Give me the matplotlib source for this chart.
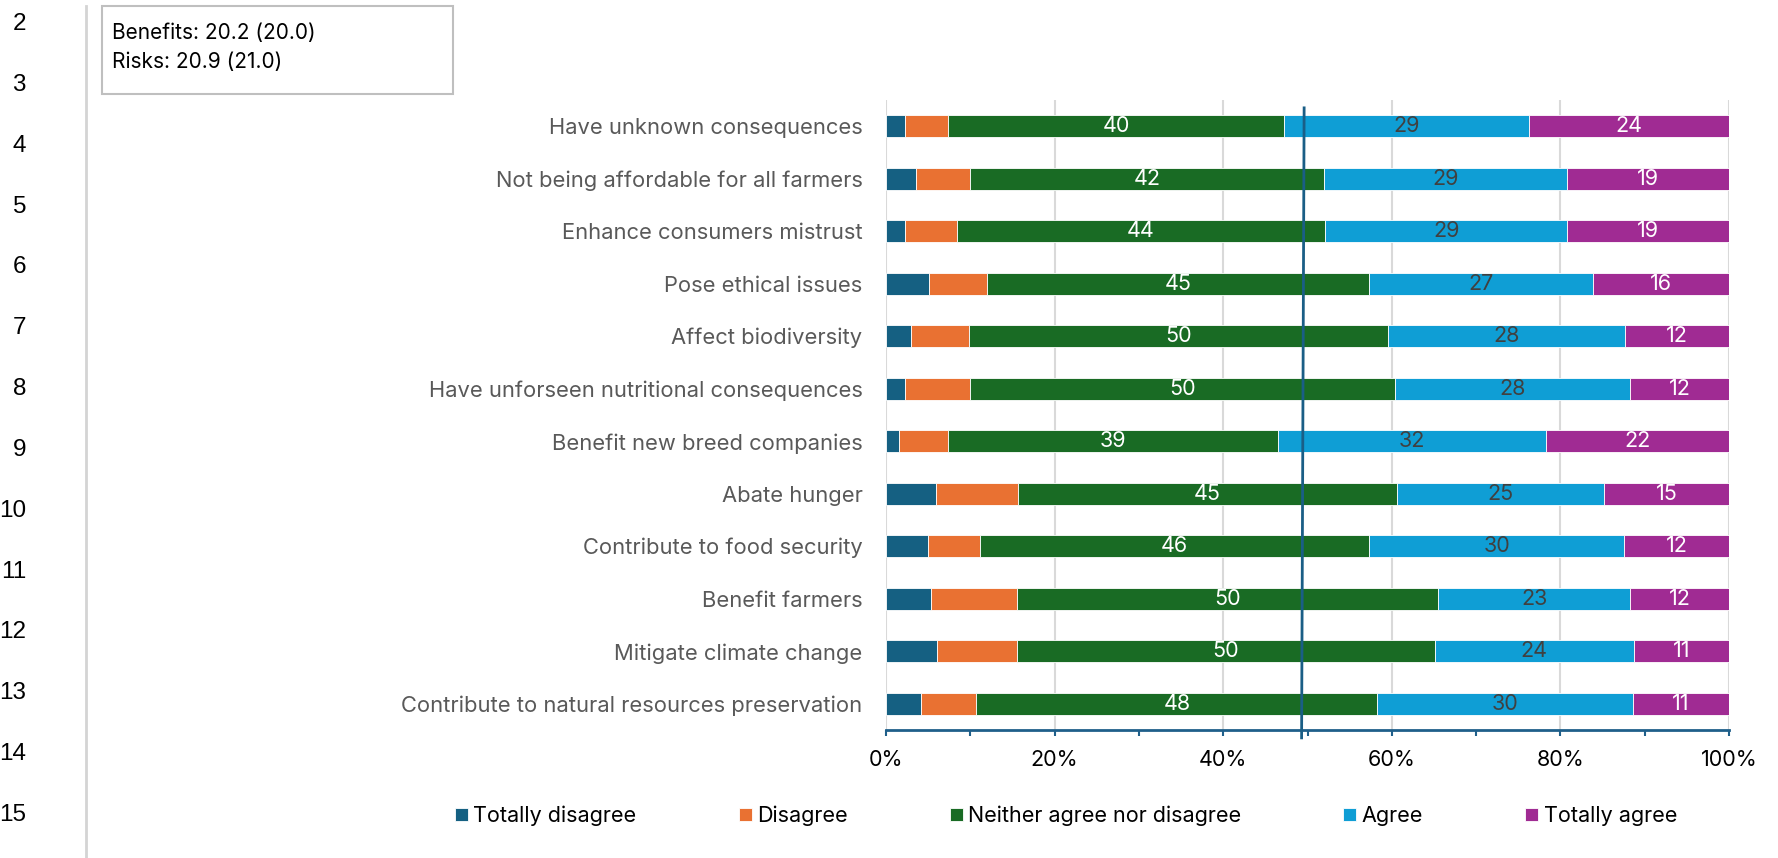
import matplotlib
matplotlib.use("Agg")
import matplotlib.pyplot as plt
from matplotlib.patches import Rectangle
import numpy as np

plt.rcParams['font.family'] = ['Inter', 'DejaVu Sans']

# statements, top to bottom
labels = ['Have unknown consequences', 'Not being affordable for all farmers',
          'Enhance consumers mistrust', 'Pose ethical issues', 'Affect biodiversity',
          'Have unforseen nutritional consequences', 'Benefit new breed companies',
          'Abate hunger', 'Contribute to food security', 'Benefit farmers',
          'Mitigate climate change', 'Contribute to natural resources preservation']

# shares in %
totally_disagree = [2.2, 3.6, 2.2, 5.1, 3.0, 2.2, 1.6, 5.9, 5.0, 5.3, 6.1, 4.2]
disagree = [5.2, 6.4, 6.2, 6.9, 6.8, 7.8, 5.7, 9.8, 6.1, 10.2, 9.4, 6.5]
neither = [39.8, 41.9, 43.7, 45.3, 49.8, 50.4, 39.2, 44.9, 46.2, 50.0, 49.6, 47.6]
agree = [29.1, 28.9, 28.7, 26.6, 28.1, 27.9, 31.8, 24.6, 30.3, 22.8, 23.6, 30.3]
totally_agree = [23.7, 19.2, 19.2, 16.1, 12.3, 11.7, 21.7, 14.8, 12.4, 11.7, 11.3, 11.4]

series_names = ['Totally disagree', 'Disagree', 'Neither agree nor disagree', 'Agree', 'Totally agree']
colors = ['#156082', '#E97132', '#196B24', '#0F9ED5', '#A02B93']
label_colors = [None, None, 'white', '#404040', 'white']

box_lines = ['Benefits: 20.2 (20.0)', 'Risks: 20.9 (21.0)']
ref_line = (49.6, 49.3)  # hand drawn line near 50%, top and bottom x
row_numbers = list(range(2, 16))

W, H = 1778, 858
fig = plt.figure(figsize=(W / 100, H / 100), dpi=100)
ax = fig.add_axes([886 / W, 1 - 730 / H, (1729 - 886) / W, (730 - 100) / H])

y = np.arange(len(labels))
series = [totally_disagree, disagree, neither, agree, totally_agree]
left = np.zeros(len(labels))
for vals, name, c, lc in zip(series, series_names, colors, label_colors):
    vals = np.array(vals)
    ax.barh(y, vals, left=left, height=0.41, color=c, edgecolor='white',
            linewidth=0.6, label=name, zorder=3)
    if lc is not None:
        for yi, l, v in zip(y, left, vals):
            ax.text(l + v / 2, yi, f'{v:.0f}', ha='center', va='center',
                    color=lc, fontsize=15.5, zorder=4)
    left += vals

ax.set_xlim(0, 100)
ax.set_ylim(len(labels) - 0.5, -0.5)
ax.set_xticks(range(0, 101, 20))
ax.set_xticklabels([f'{v}%' for v in range(0, 101, 20)])
ax.set_xticks(range(10, 100, 20), minor=True)
ax.xaxis.grid(True, color='#D9D9D9', linewidth=1.5, zorder=0)
ax.set_axisbelow(True)
ax.set_yticks(y)
ax.set_yticklabels(labels, color='#595959', fontsize=15.8)
ax.tick_params(axis='y', length=0, pad=17)
ax.tick_params(axis='x', which='both', direction='out', length=4,
               width=1.5, color='#1F5F8A', labelsize=15.5, pad=10.5, labelcolor='black')
for s in ['top', 'right', 'left']:
    ax.spines[s].set_visible(False)
ax.spines['bottom'].set_color('#1F5F8A')
ax.spines['bottom'].set_linewidth(2)

ax.plot([ref_line[0], ref_line[1]], [-0.35, 11.65], color='#1A5E86',
        linewidth=2, clip_on=False, zorder=5)

fig.legend(loc='center', bbox_to_anchor=(1066 / W, 1 - 816 / H), ncol=5,
           frameon=False, fontsize=15.5, handlelength=0.6, handleheight=0.6,
           handletextpad=0.25, columnspacing=4.75)

# spreadsheet decorations in pixel coordinates
deco = fig.add_axes([0, 0, 1, 1])
deco.set_xlim(0, W)
deco.set_ylim(H, 0)
deco.axis('off')
deco.plot([86, 86], [6, H], color='#D4D4D4', linewidth=2)
for i, n in enumerate(row_numbers):
    deco.text(26, 24 + i * 60.85, str(n), ha='right', va='center',
              fontsize=17.5, family='Liberation Sans', color='black')
deco.add_patch(Rectangle((102, 6), 351, 88, facecolor='white',
                         edgecolor='#BFBFBF', linewidth=1.5))
deco.text(112, 33, box_lines[0], ha='left', va='center', fontsize=15)
deco.text(112, 62, box_lines[1], ha='left', va='center', fontsize=15)

fig.savefig('out.png', dpi=100)
